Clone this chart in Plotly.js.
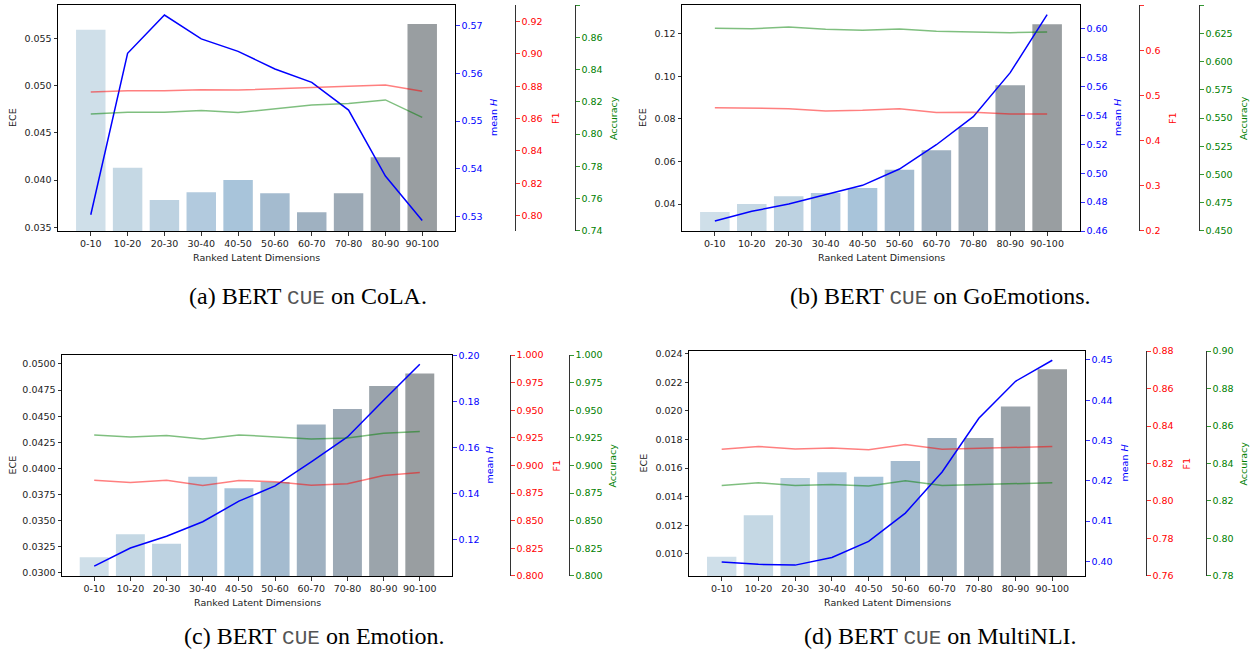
<!DOCTYPE html>
<html><head><meta charset="utf-8">
<script src="https://cdn.plot.ly/plotly-3.0.1.min.js"></script>
<style>html,body{margin:0;padding:0;background:#fff}#chart{width:1258px;height:651px}</style>
</head><body><div id="chart"></div>
<script>
const categories = ['0-10','10-20','20-30','30-40','40-50','50-60','60-70','70-80','80-90','90-100'];

const colaECE   = [0.0559, 0.0413, 0.0379, 0.0387, 0.0400, 0.0386, 0.0366, 0.0386, 0.0424, 0.0565];
const colaMeanH = [0.5304, 0.5642, 0.5722, 0.5672, 0.5646, 0.5609, 0.5581, 0.5523, 0.5385, 0.5292];
const colaF1    = [0.8765, 0.8773, 0.8773, 0.8779, 0.8777, 0.8786, 0.8792, 0.8800, 0.8808, 0.8769];
const colaAcc   = [0.8125, 0.8136, 0.8136, 0.8146, 0.8134, 0.8157, 0.8181, 0.8190, 0.8212, 0.8104];

const goECE   = [0.0362, 0.0400, 0.0436, 0.0452, 0.0475, 0.0561, 0.0653, 0.0762, 0.0959, 0.1246];
const goMeanH = [0.4669, 0.4736, 0.4787, 0.4849, 0.4916, 0.5029, 0.5197, 0.5391, 0.5696, 0.6097];
const goF1    = [0.4728, 0.4714, 0.4706, 0.4655, 0.4670, 0.4706, 0.4619, 0.4626, 0.4588, 0.4588];
const goAcc   = [0.6294, 0.6290, 0.6305, 0.6285, 0.6276, 0.6288, 0.6267, 0.6258, 0.6255, 0.6261];

const emoECE   = [0.0315, 0.0337, 0.0328, 0.0392, 0.0381, 0.0387, 0.0442, 0.0457, 0.0479, 0.0491];
const emoMeanH = [0.1087, 0.1165, 0.1216, 0.1279, 0.1368, 0.1434, 0.1538, 0.1646, 0.1805, 0.1961];
const emoF1    = [0.8867, 0.8846, 0.8867, 0.8819, 0.8864, 0.8853, 0.8822, 0.8835, 0.8910, 0.8937];
const emoAcc   = [0.9277, 0.9259, 0.9271, 0.9241, 0.9277, 0.9262, 0.9241, 0.9250, 0.9292, 0.9307];

const nliECE   = [0.0098, 0.0127, 0.0153, 0.0157, 0.0154, 0.0165, 0.0181, 0.0181, 0.0203, 0.0229];
const nliMeanH = [0.3999, 0.3993, 0.3991, 0.4010, 0.4050, 0.4120, 0.4222, 0.4355, 0.4447, 0.4499];
const nliF1    = [0.8276, 0.8291, 0.8278, 0.8283, 0.8273, 0.8302, 0.8276, 0.8282, 0.8285, 0.8291];
const nliAcc   = [0.8283, 0.8297, 0.8283, 0.8288, 0.8280, 0.8308, 0.8283, 0.8289, 0.8292, 0.8297];

const barColors = ['#cfdfe9','#c5d8e4','#bdd2e1','#b2cade','#a8c4da','#a4bbcf','#9fb1c1','#9daab6','#9ba4ab','#999ea1'];

const W = 1258, H = 651;
const fx = px => px / W;
const fy = py => 1 - py / H;

const panels = [
  {ece: colaECE, mh: colaMeanH, f1: colaF1, acc: colaAcc, cap: 'CoLA.',
   L: 58, R: 455, T: 5, B: 231, f1x: 515, accx: 575,
   eceR: [0.03461, 0.05852], eceD: 0.005, eceF: '.3f',
   hR: [0.5270, 0.5743], hD: 0.01, hF: '.2f',
   f1R: [0.7905, 0.9303], f1D: 0.02, f1F: '.2f',
   accR: [0.73995, 0.88005], accD: 0.02, accF: '.2f',
   eceX: 12, hX: 493, f1lX: 555, acclX: 613, xtY: 257, capX: 308, capY: 296},
  {ece: goECE, mh: goMeanH, f1: goF1, acc: goAcc, cap: 'GoEmotions.',
   L: 682, R: 1080, T: 5, B: 231, f1x: 1139, accx: 1199,
   eceR: [0.0273, 0.1336], eceD: 0.02, eceF: '.2f',
   hR: [0.46, 0.6164], hD: 0.02, hF: '.2f',
   f1R: [0.19995, 0.70005], f1D: 0.1, f1F: '.1f',
   accR: [0.44995, 0.65005], accD: 0.025, accF: '.3f',
   eceX: 642, hX: 1117, f1lX: 1172, acclX: 1243, xtY: 257, capX: 940, capY: 296},
  {ece: emoECE, mh: emoMeanH, f1: emoF1, acc: emoAcc, cap: 'Emotion.',
   L: 62, R: 452, T: 355, B: 576, f1x: 510, accx: 569,
   eceR: [0.02971, 0.05086], eceD: 0.0025, eceF: '.4f',
   hR: [0.1044, 0.2001], hD: 0.02, hF: '.2f',
   f1R: [0.79995, 1.00005], f1D: 0.025, f1F: '.3f',
   accR: [0.79995, 1.00005], accD: 0.025, accF: '.3f',
   eceX: 12, hX: 489, f1lX: 556, acclX: 612, xtY: 602, capX: 314, capY: 636},
  {ece: nliECE, mh: nliMeanH, f1: nliF1, acc: nliAcc, cap: 'MultiNLI.',
   L: 689, R: 1085, T: 351, B: 576, f1x: 1146, accx: 1206,
   eceR: [0.00846, 0.02418], eceD: 0.002, eceF: '.3f',
   hR: [0.3964, 0.4522], hD: 0.01, hF: '.2f',
   f1R: [0.75995, 0.88005], f1D: 0.02, f1F: '.2f',
   accR: [0.77995, 0.90005], accD: 0.02, accF: '.2f',
   eceX: 643, hX: 1124, f1lX: 1186, acclX: 1243, xtY: 602, capX: 940, capY: 636}
];

const FONT = 'DejaVu Sans';
const FS = 9.5;
const traces = [];
const layout = {
  width: W, height: H, margin: {l: 0, r: 0, t: 0, b: 0},
  paper_bgcolor: '#fff', plot_bgcolor: '#fff', showlegend: false,
  annotations: [], font: {family: FONT, size: FS, color: '#222'}
};

function axName(n) { return n === 1 ? 'yaxis' : 'yaxis' + n; }
function axRef(n) { return n === 1 ? 'y' : 'y' + n; }
function xName(n) { return n === 1 ? 'xaxis' : 'xaxis' + n; }
function xRef(n) { return n === 1 ? 'x' : 'x' + n; }

const tickCommon = {ticks: 'outside', ticklen: 3.5, tickwidth: 0.8, showgrid: false, zeroline: false, tick0: 0};

panels.forEach((p, i) => {
  const xi = i + 1, yb = 4 * i + 1;
  const xr = xRef(xi), ybr = axRef(yb);
  layout[xName(xi)] = Object.assign({}, tickCommon, {
    domain: [fx(p.L), fx(p.R)], anchor: ybr, type: 'category', range: [-0.89, 9.89],
    showline: true, mirror: true, linecolor: '#000', linewidth: 1, tickcolor: '#000',
    tickfont: {family: FONT, size: FS, color: '#222'}
  });
  layout[axName(yb)] = Object.assign({}, tickCommon, {
    domain: [fy(p.B), fy(p.T)], anchor: xr, range: p.eceR, dtick: p.eceD, tickformat: p.eceF,
    showline: true, mirror: true, linecolor: '#000', linewidth: 1, tickcolor: '#000',
    tickfont: {family: FONT, size: FS, color: '#222'}
  });
  layout[axName(yb + 1)] = Object.assign({}, tickCommon, {
    overlaying: ybr, anchor: xr, side: 'right', range: p.hR, dtick: p.hD, tickformat: p.hF,
    showline: false, tickcolor: 'blue', tickfont: {family: FONT, size: FS, color: 'blue'}
  });
  layout[axName(yb + 2)] = Object.assign({}, tickCommon, {
    overlaying: ybr, anchor: 'free', position: fx(p.f1x), side: 'right', range: p.f1R, dtick: p.f1D, tickformat: p.f1F,
    showline: true, linecolor: '#333', linewidth: 1, tickcolor: 'red', tickfont: {family: FONT, size: FS, color: 'red'}
  });
  layout[axName(yb + 3)] = Object.assign({}, tickCommon, {
    overlaying: ybr, anchor: 'free', position: fx(p.accx), side: 'right', range: p.accR, dtick: p.accD, tickformat: p.accF,
    showline: true, linecolor: '#333', linewidth: 1, tickcolor: 'green', tickfont: {family: FONT, size: FS, color: 'green'}
  });

  traces.push({type: 'bar', x: categories, y: p.ece, xaxis: xr, yaxis: ybr, width: 0.8,
    marker: {color: barColors, line: {width: 0}}, hoverinfo: 'skip'});
  traces.push({type: 'scatter', mode: 'lines', x: categories, y: p.mh, xaxis: xr, yaxis: axRef(yb + 1),
    line: {color: 'blue', width: 1.5}, hoverinfo: 'skip'});
  traces.push({type: 'scatter', mode: 'lines', x: categories, y: p.f1, xaxis: xr, yaxis: axRef(yb + 2),
    line: {color: 'rgba(255,0,0,0.5)', width: 1.5}, hoverinfo: 'skip'});
  traces.push({type: 'scatter', mode: 'lines', x: categories, y: p.acc, xaxis: xr, yaxis: axRef(yb + 3),
    line: {color: 'rgba(0,128,0,0.5)', width: 1.5}, hoverinfo: 'skip'});

  const midY = fy((p.T + p.B) / 2);
  const ann = (text, x, y, color, angle) => layout.annotations.push({
    text, x, y, xref: 'paper', yref: 'paper', showarrow: false, textangle: angle,
    xanchor: 'center', yanchor: 'middle', font: {family: FONT, size: FS, color}
  });
  ann('ECE', fx(p.eceX), midY, '#222', -90);
  ann('mean <i>H</i>', fx(p.hX), midY, 'blue', -90);
  ann('F1', fx(p.f1lX), midY, 'red', -90);
  ann('Accuracy', fx(p.acclX), midY, 'green', -90);
  ann('Ranked Latent Dimensions', fx((p.L + p.R) / 2), fy(p.xtY), '#222', 0);
  layout.annotations.push({
    text: '(' + 'abcd'[i] + ') BERT <span style="font-family:Liberation Mono;font-size:21px;font-weight:normal;fill:#555">CUE</span> on ' + p.cap,
    x: fx(p.capX), y: fy(p.capY), xref: 'paper', yref: 'paper', showarrow: false,
    xanchor: 'center', yanchor: 'middle', font: {family: 'Liberation Serif', size: 24, color: '#000'}
  });
});

Plotly.newPlot('chart', traces, layout, {staticPlot: true, displayModeBar: false});
</script>
</body></html>
